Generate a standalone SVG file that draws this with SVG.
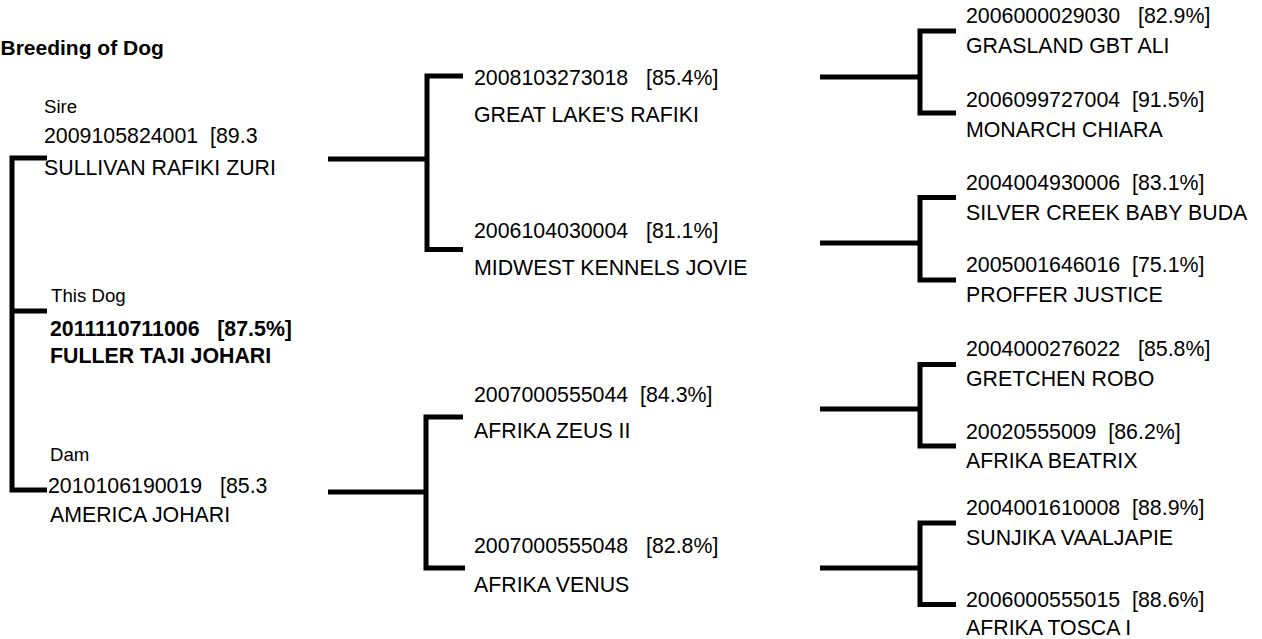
<svg xmlns="http://www.w3.org/2000/svg" width="1262" height="639" viewBox="0 0 1262 639">
<style>
text{font-family:"Liberation Sans",Arial,sans-serif;font-size:21.33px;fill:#000;white-space:pre}
.lbl{font-size:18.67px}
.b{font-weight:bold}
.title{font-weight:bold;font-size:21px}
.c{fill:none;stroke:#000;stroke-width:5;stroke-linejoin:miter;stroke-linecap:butt}
</style>
<rect width="1262" height="639" fill="#fff"/>
<text class="title" x="0.5" y="54.5">Breeding of Dog</text>
<g id="connectors">
<path class="c" d="M47,158 H12 V490 H47 M12,311 H47"/>
<path class="c" d="M328,159 H427 M463,76 H427 V249.5 H463"/>
<path class="c" d="M328,492 H426 M463,417 H426 V568 H465"/>
<path class="c" d="M820,77 H920 M956,31 H920 V113 H956"/>
<path class="c" d="M820,243 H920 M956,197.5 H920 V280 H956"/>
<path class="c" d="M820,409 H920 M956,364.5 H920 V446 H956"/>
<path class="c" d="M820,568 H920 M956,523 H920 V604.5 H956"/>
</g>
<g id="sire">
<text class="lbl" x="44" y="112.5">Sire</text>
<text x="44" y="143">2009105824001  [89.3</text>
<text x="44" y="175">SULLIVAN RAFIKI ZURI</text>
</g>
<g id="thisdog">
<text class="lbl" x="51" y="302">This Dog</text>
<text class="b" x="50" y="336">2011110711006   [87.5%]</text>
<text class="b" x="50" y="363">FULLER TAJI JOHARI</text>
</g>
<g id="dam">
<text class="lbl" x="50" y="461">Dam</text>
<text x="48" y="493">2010106190019   [85.3</text>
<text x="50" y="522">AMERICA JOHARI</text>
</g>
<g id="ss">
<text x="474" y="85">2008103273018   [85.4%]</text>
<text x="474" y="122">GREAT LAKE'S RAFIKI</text>
</g>
<g id="sd">
<text x="474" y="238">2006104030004   [81.1%]</text>
<text x="474" y="275">MIDWEST KENNELS JOVIE</text>
</g>
<g id="ds">
<text x="474" y="402">2007000555044  [84.3%]</text>
<text x="474" y="438">AFRIKA ZEUS II</text>
</g>
<g id="dd">
<text x="474" y="553">2007000555048   [82.8%]</text>
<text x="474" y="592">AFRIKA VENUS</text>
</g>
<g id="sss">
<text x="966" y="23">2006000029030   [82.9%]</text>
<text x="966" y="53">GRASLAND GBT ALI</text>
</g>
<g id="ssd">
<text x="966" y="107">2006099727004  [91.5%]</text>
<text x="966" y="137">MONARCH CHIARA</text>
</g>
<g id="sds">
<text x="966" y="190">2004004930006  [83.1%]</text>
<text x="966" y="220">SILVER CREEK BABY BUDA</text>
</g>
<g id="sdd">
<text x="966" y="272">2005001646016  [75.1%]</text>
<text x="966" y="302">PROFFER JUSTICE</text>
</g>
<g id="dss">
<text x="966" y="356">2004000276022   [85.8%]</text>
<text x="966" y="386">GRETCHEN ROBO</text>
</g>
<g id="dsd">
<text x="966" y="439">20020555009  [86.2%]</text>
<text x="966" y="468">AFRIKA BEATRIX</text>
</g>
<g id="dds">
<text x="966" y="515">2004001610008  [88.9%]</text>
<text x="966" y="545">SUNJIKA VAALJAPIE</text>
</g>
<g id="ddd">
<text x="966" y="607">2006000555015  [88.6%]</text>
<text x="966" y="635">AFRIKA TOSCA I</text>
</g>
</svg>
